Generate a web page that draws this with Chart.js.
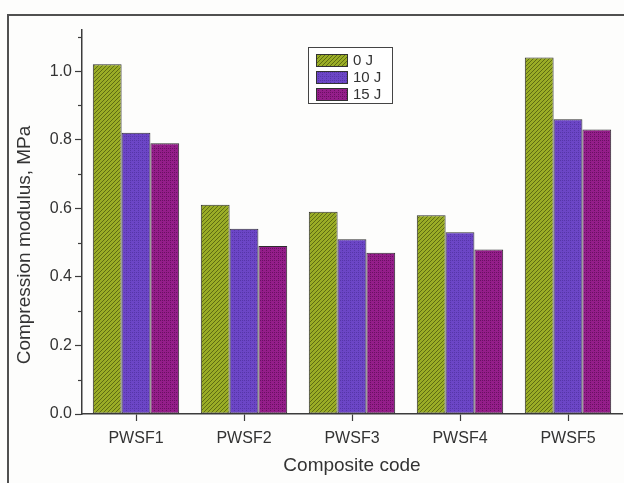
<!DOCTYPE html>
<html>
<head>
<meta charset="utf-8">
<script src="https://cdn.jsdelivr.net/npm/chart.js@4/dist/chart.umd.min.js"></script>
<style>
  html, body { margin: 0; padding: 0; background: #fdfdfc; }
  #wrap { position: relative; width: 624px; height: 483px; }
  #frame { position: absolute; left: 7px; top: 14px; right: 0; bottom: 0;
           border-left: 2px solid #505050; border-top: 2px solid #505050; pointer-events: none; }
  canvas { position: absolute; left: 0; top: 0; }
</style>
</head>
<body>
<div id="wrap">
  <canvas id="chart" width="624" height="483"></canvas>
  <div id="frame"></div>
</div>
<script>
// Composite codes on the x axis
const categories = ['PWSF1', 'PWSF2', 'PWSF3', 'PWSF4', 'PWSF5'];
// Impact energy of each series
const energyLabels = ['0 J', '10 J', '15 J'];
// Compression modulus (MPa) per composite
const modulus0J  = [1.02, 0.61, 0.59, 0.58, 1.04];
const modulus10J = [0.82, 0.54, 0.51, 0.53, 0.86];
const modulus15J = [0.79, 0.49, 0.47, 0.48, 0.83];
// Labelled y ticks and the minor ticks between them
const yTickValues  = [0.0, 0.2, 0.4, 0.6, 0.8, 1.0];
const yMinorValues = [0.1, 0.3, 0.5, 0.7, 0.9, 1.1];
const yTitle = 'Compression modulus, MPa';

// Small repeating fills: diagonal hatch or fine dotted texture
function makePattern(base, ink, kind) {
  const c = document.createElement('canvas');
  c.width = 4; c.height = 4;
  const g = c.getContext('2d');
  g.fillStyle = base;
  g.fillRect(0, 0, 4, 4);
  g.fillStyle = ink;
  if (kind === 'diag') {
    for (let i = 0; i < 4; i++) g.fillRect(i, 3 - i, 1, 1);
  } else {
    g.fillRect(0, 0, 1, 1);
    g.fillRect(2, 2, 1, 1);
    g.fillRect(2, 0, 1, 1);
  }
  return g.createPattern(c, 'repeat');
}

const fills = [
  makePattern('#9aad26', '#5e6c14', 'diag'),
  makePattern('#6c46c6', '#5636a8', 'dots'),
  makePattern('#941e8a', '#6a1062', 'dots')
];
const seriesValues = [modulus0J, modulus10J, modulus15J];

const textColor = '#333333';
const axisColor = '#3c3c3c';
const fontFamily = '"Liberation Sans", Arial, sans-serif';

// Minor tick marks on the y axis
const minorTicks = {
  id: 'minorTicks',
  afterDraw(chart) {
    const y = chart.scales.y;
    const ctx = chart.ctx;
    ctx.save();
    ctx.strokeStyle = axisColor;
    ctx.lineWidth = 1.2;
    yMinorValues.forEach(v => {
      const py = Math.round(y.getPixelForValue(v)) + 0.5;
      ctx.beginPath();
      ctx.moveTo(y.right - 4, py);
      ctx.lineTo(y.right, py);
      ctx.stroke();
    });
    ctx.restore();
  }
};

// Rotated y-axis title, set a little below the plot's middle
const yAxisTitle = {
  id: 'yAxisTitle',
  afterDraw(chart) {
    const area = chart.chartArea;
    const ctx = chart.ctx;
    ctx.save();
    ctx.translate(25, (area.top + area.bottom) / 2 + 23);
    ctx.rotate(-Math.PI / 2);
    ctx.font = '19px ' + fontFamily;
    ctx.fillStyle = textColor;
    ctx.textAlign = 'center';
    ctx.textBaseline = 'middle';
    ctx.fillText(yTitle, 0, 0);
    ctx.restore();
  }
};

// Boxed legend drawn inside the plot area
const boxedLegend = {
  id: 'boxedLegend',
  afterDraw(chart) {
    const ctx = chart.ctx;
    const area = chart.chartArea;
    const x0 = area.left + 226, y0 = area.top + 17;
    const w = 84, h = 56;
    ctx.save();
    ctx.fillStyle = '#ffffff';
    ctx.fillRect(x0, y0, w, h);
    ctx.strokeStyle = '#444444';
    ctx.lineWidth = 1;
    ctx.strokeRect(x0 + 0.5, y0 + 0.5, w, h);
    ctx.font = '15px ' + fontFamily;
    ctx.textBaseline = 'middle';
    chart.data.datasets.forEach((ds, i) => {
      const sy = y0 + 7 + i * 17;
      ctx.fillStyle = ds.backgroundColor;
      ctx.fillRect(x0 + 8, sy, 31, 12);
      ctx.strokeStyle = '#333333';
      ctx.strokeRect(x0 + 8.5, sy + 0.5, 31, 12);
      ctx.fillStyle = textColor;
      ctx.fillText(ds.label, x0 + 45, sy + 7);
    });
    ctx.restore();
  }
};

new Chart(document.getElementById('chart'), {
  type: 'bar',
  data: {
    labels: categories,
    datasets: energyLabels.map((label, i) => ({
      label: label,
      data: seriesValues[i],
      backgroundColor: fills[i],
      borderColor: '#2e2e2e',
      borderWidth: 1,
      borderSkipped: false,
      categoryPercentage: 0.8,
      barPercentage: 1.0
    }))
  },
  options: {
    responsive: false,
    animation: false,
    layout: { padding: { left: 0, right: 2, top: 30, bottom: 0 } },
    plugins: {
      legend: { display: false },
      tooltip: { enabled: false }
    },
    scales: {
      x: {
        afterFit(scale) { scale.height = 69; },
        grid: {
          display: true,
          offset: false,
          drawOnChartArea: false,
          drawTicks: true,
          tickLength: 7,
          tickColor: axisColor,
          tickWidth: 1.2
        },
        border: { display: true, color: axisColor, width: 1.5 },
        ticks: {
          color: textColor,
          font: { family: fontFamily, size: 16 },
          padding: 8,
          maxRotation: 0
        },
        title: {
          display: true,
          text: 'Composite code',
          color: textColor,
          font: { family: fontFamily, size: 19 },
          padding: { top: 0, bottom: 6 }
        }
      },
      y: {
        min: 0,
        max: 1.12,
        afterFit(scale) { scale.width = 82; },
        afterBuildTicks(scale) {
          scale.ticks = yTickValues.map(v => ({ value: v }));
        },
        grid: {
          display: true,
          drawOnChartArea: false,
          drawTicks: true,
          tickLength: 7,
          tickColor: axisColor,
          tickWidth: 1.2
        },
        border: { display: true, color: axisColor, width: 1.5 },
        ticks: {
          color: textColor,
          font: { family: fontFamily, size: 16 },
          padding: 3,
          callback: v => Number(v).toFixed(1)
        },
        title: { display: false }
      }
    }
  },
  plugins: [minorTicks, yAxisTitle, boxedLegend]
});
</script>
</body>
</html>
